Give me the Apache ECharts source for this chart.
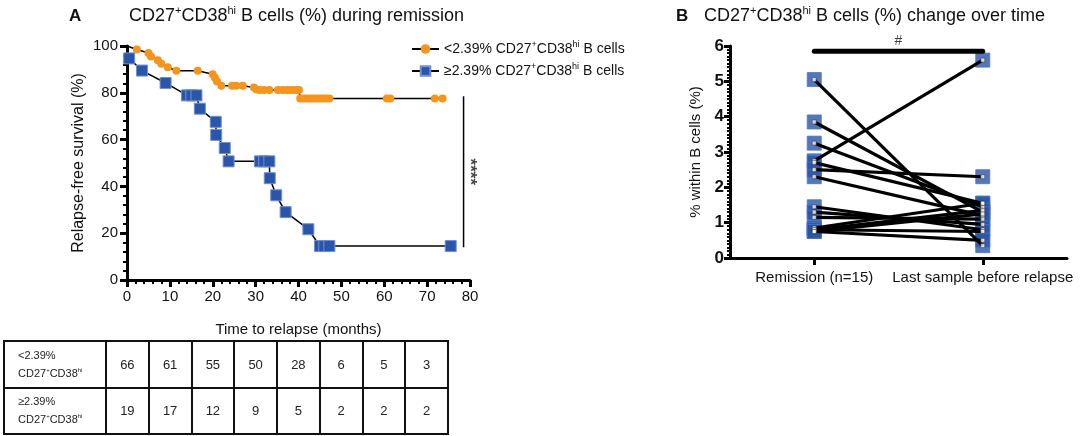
<!DOCTYPE html>
<html>
<head>
<meta charset="utf-8">
<script src="https://cdn.jsdelivr.net/npm/echarts@6/dist/echarts.min.js"></script>
<style>
  body { margin: 0; background: #fff; }
  #wrap { position: relative; width: 1084px; height: 436px; }
  #chart { width: 1084px; height: 436px; }
  #atrisk {
    position: absolute; left: 3px; top: 340px; width: 446px; height: 95px;
    border-collapse: collapse; table-layout: fixed;
    font-family: 'Liberation Sans', Arial, sans-serif; color: #222;
  }
  #atrisk td { border: 2px solid #111; text-align: center; font-size: 13px; padding: 0; }
  #atrisk td.lab { text-align: left; padding-left: 13px; font-size: 11px; line-height: 15px; }
  #atrisk sup { font-size: 6px; }
</style>
</head>
<body>
<div id="wrap">
  <div id="chart"></div>
  <table id="atrisk"></table>
</div>
<script>
// Kaplan-Meier points [months, survival %]
const lowSurvival = [
  [0, 100], [2.3, 98.5], [5, 97], [5.6, 95.5], [7.2, 93.9], [8, 92.4], [9.5, 90.9], [11.5, 89.4], [16.5, 89.4],
  [20, 87.9], [20.5, 86.4], [21, 84.8], [22, 83], [24.5, 83], [25.5, 83], [27, 83],
  [29.6, 82.3], [30.2, 81.4], [31, 81.2], [32, 81.2], [33.2, 81.2], [35.2, 81.2], [36.3, 81.2], [37.3, 81.2],
  [38, 81.2], [38.8, 81.2], [39.5, 81.2], [40.1, 81.2],
  [40.4, 77.6], [41, 77.6], [41.7, 77.6], [42.4, 77.6], [43, 77.6], [43.7, 77.6], [44.3, 77.6], [45, 77.6],
  [45.7, 77.6], [46.4, 77.6], [47.2, 77.6], [60.6, 77.6], [61.4, 77.6], [71.8, 77.6], [73.6, 77.6]
]
const highSurvival = [
  [0, 100], [0.5, 94.7], [3.5, 89.5], [9, 84.2], [14, 78.9], [15, 78.9], [16.2, 78.9], [17, 73.2],
  [20.7, 67.6], [20.8, 62], [22.8, 56.4], [23.7, 50.7], [31, 50.7], [32, 50.7], [33.2, 50.7],
  [33.3, 43.5], [34.8, 36.2], [37, 29], [42.3, 21.7], [45, 14.5], [46, 14.5], [47.2, 14.5], [75.5, 14.5]
]
const groupNames = ['<2.39%', '≥2.39%']
const sigBracket = [[78.5, 78.5], [78.5, 14]]
const sigLabel = '****'

// numbers at risk table
const atRiskLow = [66, 61, 55, 50, 28, 6, 5, 3]
const atRiskHigh = [19, 17, 12, 9, 5, 2, 2, 2]

// panel B paired values
const timeLabels = ['Remission (n=15)', 'Last sample before relapse']
const timePos = [1, 3]
const remissionVals = [5.05, 3.85, 3.25, 2.75, 2.7, 2.5, 2.3, 1.45, 1.3, 1.15, 0.85, 0.8, 0.8, 0.75, 0.75]
const lastVals = [0.35, 1.3, 1.45, 5.6, 1.55, 2.3, 1.2, 0.8, 0.95, 1.1, 1.55, 1.35, 0.75, 0.5, 1.25]
const hashBar = [[1, 5.85], [3, 5.85]]

const FONT = "'Liberation Sans', Arial, sans-serif"
const ORANGE = '#f7941d'
const BLUE = '#2b55a8'

const supRich = {
  n: { fontSize: 18, fontWeight: 'normal', fontFamily: FONT, color: '#111', lineHeight: 22 },
  s: { fontSize: 11, fontWeight: 'normal', fontFamily: FONT, color: '#111', verticalAlign: 'top', lineHeight: 22 }
}
const legRich = {
  n: { fontSize: 14, fontFamily: FONT, color: '#111', lineHeight: 18 },
  s: { fontSize: 9, fontFamily: FONT, color: '#111', verticalAlign: 'top', lineHeight: 18 }
}

function seriesName(g){
  return g + ' CD27+CD38hi B cells'
}

function buildTable(){
  const table = document.getElementById('atrisk')
  let cols = '<colgroup><col style="width:102px">'
  atRiskLow.forEach(() => { cols += '<col>' })
  table.innerHTML = cols + '</colgroup>'
  const rows = [atRiskLow, atRiskHigh]
  rows.forEach((vals, i) => {
    const tr = document.createElement('tr')
    let html = `<td class="lab">${groupNames[i].replace('<', '&lt;')}<br>CD27<sup>+</sup>CD38<sup>hi</sup></td>`
    vals.forEach(v => { html += `<td>${v}</td>` })
    tr.innerHTML = html
    table.appendChild(tr)
  })
}

function firstNoSymbol(arr){
  return arr.map((p, i) => i === 0 ? { value: p, symbol: 'none' } : p)
}

// a bare axis that only draws short ticks, laid over a main axis
function minorAxis(gridIndex, position, min, max, interval, length){
  return {
    gridIndex, position, type: 'value', min, max, interval,
    axisLine: { show: false },
    axisLabel: { show: false },
    splitLine: { show: false },
    axisTick: { length, lineStyle: { width: 2, color: '#000' } }
  }
}

function drawChart(){
  const chart = echarts.init(document.getElementById('chart'))

  const pairSeries = remissionVals.map((r, i) => ({
    type: 'line',
    xAxisIndex: 1, yAxisIndex: 1,
    data: [[timePos[0], r], [timePos[1], lastVals[i]]],
    symbol: 'none',
    lineStyle: { color: '#000', width: 3.2 },
    z: 3,
    silent: true
  }))
  const allPoints = remissionVals.map(v => [timePos[0], v]).concat(lastVals.map(v => [timePos[1], v]))

  const axisCommon = {
    axisLine: { lineStyle: { color: '#000', width: 3 } },
    splitLine: { show: false }
  }

  const option = {
    animation: false,
    textStyle: { fontFamily: FONT },
    title: [
      { text: 'A', left: 64, top: 3, textStyle: { fontSize: 17, fontWeight: 'bold', color: '#111', fontFamily: FONT } },
      { text: '{n|CD27}{s|+}{n|CD38}{s|hi}{n| B cells (%) during remission}', left: 124, top: 0, textStyle: { rich: supRich } },
      { text: 'B', left: 671, top: 3, textStyle: { fontSize: 17, fontWeight: 'bold', color: '#111', fontFamily: FONT } },
      { text: '{n|CD27}{s|+}{n|CD38}{s|hi}{n| B cells (%) change over time}', left: 699, top: 0, textStyle: { rich: supRich } }
    ],
    legend: {
      data: groupNames.map(seriesName),
      orient: 'vertical',
      left: 406, top: 35,
      itemWidth: 27, itemHeight: 12, itemGap: 6,
      formatter: name => `{n|${name.split(' ')[0]} CD27}{s|+}{n|CD38}{s|hi}{n| B cells}`,
      textStyle: { rich: legRich }
    },
    grid: [
      { left: 127, right: 614, top: 46, bottom: 156 },
      { left: 730, right: 17, top: 46, bottom: 178 }
    ],
    xAxis: [
      {
        ...axisCommon, gridIndex: 0, type: 'value', min: 0, max: 80, interval: 10,
        name: 'Time to relapse (months)', nameLocation: 'middle', nameGap: 42,
        nameTextStyle: { fontSize: 15, color: '#111' },
        axisTick: { length: 7, lineStyle: { width: 3, color: '#000' } },
        axisLabel: { fontSize: 15, color: '#111', margin: 9 }
      },
      {
        ...axisCommon, gridIndex: 1, type: 'value', min: 0, max: 4,
        axisTick: { customValues: timePos, length: 7, lineStyle: { width: 3, color: '#000' } },
        axisLabel: {
          customValues: timePos, fontSize: 15, color: '#111', margin: 12,
          formatter: v => timeLabels[timePos.indexOf(v)] || ''
        }
      },
      minorAxis(0, 'bottom', 0, 80, 2, 4)
    ],
    yAxis: [
      {
        ...axisCommon, gridIndex: 0, type: 'value', min: 0, max: 100, interval: 20,
        name: 'Relapse-free survival (%)', nameLocation: 'middle', nameGap: 40,
        nameTextStyle: { fontSize: 16, color: '#111' },
        axisTick: { length: 7, lineStyle: { width: 3, color: '#000' } },
        axisLabel: { fontSize: 15, color: '#111', margin: 9 }
      },
      {
        ...axisCommon, gridIndex: 1, type: 'value', min: 0, max: 6, interval: 1,
        name: '% within B cells (%)', nameLocation: 'middle', nameGap: 27,
        nameTextStyle: { fontSize: 15, color: '#111' },
        axisTick: { length: 6, lineStyle: { width: 3, color: '#000' } },
        axisLabel: { fontSize: 17, fontWeight: 'bold', color: '#111', margin: 6 }
      },
      minorAxis(0, 'left', 0, 100, 4, 4),
      minorAxis(1, 'left', 0, 6, 0.1, 3)
    ],
    series: [
      {
        name: seriesName(groupNames[0]),
        type: 'line',
        data: firstNoSymbol(lowSurvival),
        symbol: 'circle', symbolSize: 8,
        itemStyle: { color: ORANGE },
        lineStyle: { color: '#000', width: 1.5 },
        z: 4
      },
      {
        name: seriesName(groupNames[1]),
        type: 'line',
        data: firstNoSymbol(highSurvival),
        symbol: 'rect', symbolSize: 11,
        itemStyle: { color: BLUE, borderColor: '#6f8fd8', borderWidth: 1 },
        lineStyle: { color: '#000', width: 1.5 },
        z: 5
      },
      {
        type: 'line',
        data: sigBracket,
        symbol: 'none',
        lineStyle: { color: '#000', width: 1.5 },
        silent: true
      },
      {
        type: 'scatter',
        data: [[sigBracket[0][0], (sigBracket[0][1] + sigBracket[1][1]) / 2]],
        symbolSize: 1,
        itemStyle: { color: 'transparent' },
        label: { show: true, formatter: sigLabel, position: 'right', distance: 6, rotate: -90, fontSize: 17, fontWeight: 'bold', color: '#111', align: 'center', verticalAlign: 'middle' },
        silent: true
      },
      // panel B
      {
        type: 'scatter',
        xAxisIndex: 1, yAxisIndex: 1,
        data: allPoints,
        symbol: 'rect', symbolSize: 14,
        itemStyle: { color: BLUE, borderColor: '#4a72c4', borderWidth: 1 },
        z: 2,
        silent: true
      },
      ...pairSeries,
      {
        type: 'scatter',
        xAxisIndex: 1, yAxisIndex: 1,
        data: allPoints,
        symbol: 'rect', symbolSize: 4,
        itemStyle: { color: '#fff', borderColor: '#222', borderWidth: 0.6 },
        z: 4,
        silent: true
      },
      {
        type: 'line',
        xAxisIndex: 1, yAxisIndex: 1,
        data: hashBar,
        symbol: 'none',
        lineStyle: { color: '#000', width: 5, cap: 'round' },
        silent: true
      },
      {
        type: 'scatter',
        xAxisIndex: 1, yAxisIndex: 1,
        data: [[(hashBar[0][0] + hashBar[1][0]) / 2, hashBar[0][1]]],
        symbolSize: 1,
        itemStyle: { color: 'transparent' },
        label: { show: true, formatter: '#', position: 'top', distance: 3, fontSize: 14, color: '#111' },
        silent: true
      }
    ]
  }
  chart.setOption(option)
  return chart
}

buildTable()
drawChart()
</script>
</body>
</html>
